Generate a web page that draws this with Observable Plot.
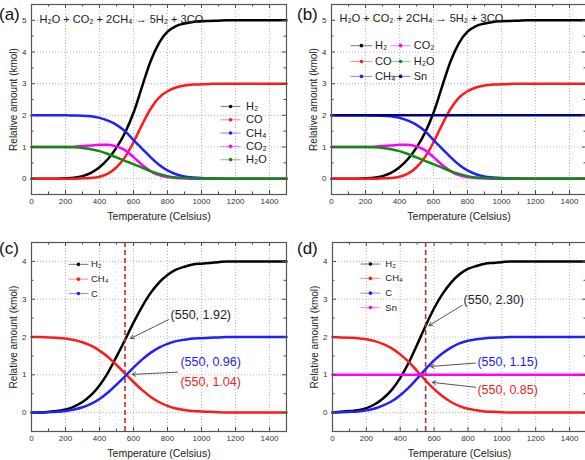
<!DOCTYPE html>
<html><head><meta charset="utf-8">
<script src="https://cdn.jsdelivr.net/npm/d3@7"></script>
<script src="https://cdn.jsdelivr.net/npm/@observablehq/plot@0.6"></script>
<style>
body{margin:0;background:#fff;}
#fig{position:relative;width:585px;height:460px;overflow:hidden;background:#fff;font-family:"Liberation Sans",Arial,sans-serif;}
.panel{position:absolute;width:300px;height:230px;}
.panel svg{max-width:none !important;width:300px;height:230px;}
.plabel{position:absolute;font-size:17px;color:#111;line-height:1;}
</style></head><body>
<div id="fig">
  <div class="panel" id="pa" style="left:0;top:0"></div>
  <div class="panel" id="pb" style="left:300px;top:0"></div>
  <div class="panel" id="pc" style="left:0;top:230px"></div>
  <div class="panel" id="pd" style="left:300px;top:230px"></div>
  <div class="plabel" style="left:-1px;top:6px">(a)</div>
  <div class="plabel" style="left:297px;top:6px">(b)</div>
  <div class="plabel" style="left:-1px;top:240px">(c)</div>
  <div class="plabel" style="left:297px;top:240px">(d)</div>
</div>
<script>
// ---------- data ----------
const temps = [0,50,100,150,200,250,300,350,400,450,500,550,600,650,700,750,800,850,900,950,1000,1050,1100,1150,1200,1250,1300,1350,1400,1450,1500];

// panels (a) and (b)
const h2A  = [0,0,0,0,0.01,0.03,0.08,0.18,0.36,0.62,0.98,1.45,2.08,2.9,3.7,4.28,4.64,4.82,4.9,4.95,4.97,4.98,4.99,5,5,5,5,5,5,5,5];
const coA  = [0,0,0,0,0,0,0.01,0.02,0.06,0.16,0.36,0.68,1.15,1.7,2.2,2.56,2.76,2.88,2.94,2.97,2.98,2.99,3,3,3,3,3,3,3,3,3];
const ch4A = [2,2,2,2,2,1.995,1.99,1.97,1.92,1.83,1.7,1.5,1.22,0.95,0.68,0.44,0.26,0.14,0.07,0.04,0.02,0.01,0.005,0,0,0,0,0,0,0,0];
const co2A = [1,1,1,1,1,1.01,1.03,1.05,1.07,1.07,1.02,0.9,0.68,0.44,0.24,0.11,0.05,0.02,0.01,0,0,0,0,0,0,0,0,0,0,0,0];
const h2oA = [1,1,1,1,1,0.99,0.97,0.93,0.87,0.78,0.67,0.56,0.46,0.35,0.24,0.15,0.08,0.04,0.02,0.01,0,0,0,0,0,0,0,0,0,0,0];
const snB  = [2,2,2,2,2,2,2,2,2,2,2,2,2,2,2,2,2,2,2,2,2,2,2,2,2,2,2,2,2,2,2];

// panel (c)
const h2C  = [0,0,0.02,0.04,0.08,0.16,0.28,0.46,0.72,1.06,1.48,1.92,2.38,2.8,3.16,3.44,3.64,3.78,3.86,3.92,3.94,3.96,3.98,4,4,4,4,4,4,4,4];
const ch4C = [2,2,1.99,1.98,1.96,1.92,1.86,1.77,1.64,1.47,1.26,1.04,0.81,0.6,0.42,0.28,0.18,0.11,0.07,0.04,0.03,0.02,0.01,0,0,0,0,0,0,0,0];
const cC   = [0,0,0.01,0.02,0.04,0.08,0.14,0.23,0.36,0.53,0.74,0.96,1.19,1.4,1.58,1.72,1.82,1.89,1.93,1.96,1.97,1.98,1.99,2,2,2,2,2,2,2,2];

// panel (d)
const h2D  = [0,0.02,0.04,0.06,0.12,0.22,0.38,0.6,0.92,1.32,1.8,2.3,2.76,3.14,3.44,3.66,3.8,3.88,3.94,3.96,3.98,4,4,4,4,4,4,4,4,4,4];
const ch4D = [2,1.99,1.98,1.97,1.94,1.89,1.81,1.7,1.54,1.34,1.1,0.85,0.62,0.43,0.28,0.17,0.1,0.06,0.03,0.02,0.01,0,0,0,0,0,0,0,0,0,0];
const cD   = [0,0.01,0.02,0.03,0.06,0.11,0.19,0.3,0.46,0.66,0.9,1.15,1.38,1.57,1.72,1.83,1.9,1.94,1.97,1.98,1.99,2,2,2,2,2,2,2,2,2,2];
const snD  = [1,1,1,1,1,1,1,1,1,1,1,1,1,1,1,1,1,1,1,1,1,1,1,1,1,1,1,1,1,1,1];

const equation = "H\u2082O + CO\u2082 + 2CH\u2084 \u2192 5H\u2082 + 3CO";
const xTitle = "Temperature (Celsius)";
const yTitle = "Relative amount (kmol)";
const xTicks = [0,200,400,600,800,1000,1200,1400];

// annotation values at 550 °C
const markT = 550;
const noteC = [{t:"(550, 1.92)"},{t:"(550, 0.96)"},{t:"(550, 1.04)"}];
const noteD = [{t:"(550, 2.30)"},{t:"(550, 1.15)"},{t:"(550, 0.85)"}];

// ---------- styles ----------
const COL = {black:"#000000", red:"#ff1a1a", blue:"#1f1fff", magenta:"#ff00ff", green:"#138a13", navy:"#000080"};

const seriesA = [
  {name:"H\u2082", values:h2A, color:COL.black},
  {name:"CO", values:coA, color:COL.red},
  {name:"CH\u2084", values:ch4A, color:COL.blue},
  {name:"CO\u2082", values:co2A, color:COL.magenta},
  {name:"H\u2082O", values:h2oA, color:COL.green}
];
const seriesB = [...seriesA, {name:"Sn", values:snB, color:COL.navy}];
const seriesC = [
  {name:"H\u2082", values:h2C, color:COL.black},
  {name:"CH\u2084", values:ch4C, color:COL.red},
  {name:"C", values:cC, color:COL.blue}
];
const seriesD = [
  {name:"H\u2082", values:h2D, color:COL.black},
  {name:"CH\u2084", values:ch4D, color:COL.red},
  {name:"C", values:cD, color:COL.blue},
  {name:"Sn", values:snD, color:COL.magenta}
];

function panel({el, width=300, height=230, mL, mR, mT, mB, yDomain, series, extras=[]}) {
  const innerW = width - mL - mR, innerH = height - mT - mB;
  const majorY = d3.range(0, yDomain[1], 1);
  const minorY = d3.range(0.5, yDomain[1], 1);
  const minorX = d3.range(100, 1500, 200);
  const tickCol = "#4a4a4a";
  const marks = [
    Plot.gridX(xTicks.slice(1), {stroke:"#9a9a9a", strokeOpacity:0.7, strokeDasharray:"1,2"}),
    Plot.gridY(majorY, {stroke:"#9a9a9a", strokeOpacity:0.7, strokeDasharray:"1,2"}),
    ...series.map(s => Plot.line(s.values, {x:(d,i)=>temps[i], y:d=>d, stroke:s.color, strokeWidth:2.5, curve:"monotone-x"})),
    ...extras,
    // inward ticks
    Plot.ruleX(xTicks.concat([1500]), {x:d=>d, insetTop:innerH-4, stroke:tickCol}),
    Plot.ruleX(xTicks.concat([1500]), {x:d=>d, insetBottom:innerH-4, stroke:tickCol}),
    Plot.ruleX(minorX, {x:d=>d, insetTop:innerH-2.5, stroke:tickCol}),
    Plot.ruleX(minorX, {x:d=>d, insetBottom:innerH-2.5, stroke:tickCol}),
    Plot.ruleY(majorY, {y:d=>d, insetRight:innerW-4, stroke:tickCol}),
    Plot.ruleY(majorY, {y:d=>d, insetLeft:innerW-4, stroke:tickCol}),
    Plot.ruleY(minorY, {y:d=>d, insetRight:innerW-2.5, stroke:tickCol}),
    Plot.ruleY(minorY, {y:d=>d, insetLeft:innerW-2.5, stroke:tickCol}),
    Plot.frame({stroke:"#555", strokeWidth:1.2}),
    Plot.axisX(xTicks, {tickSize:0, tickPadding:4, fontSize:8, fill:"#333", label:null, tickFormat:d=>String(d)}),
    Plot.axisY(majorY, {tickSize:0, tickPadding:5, fontSize:8, fill:"#333", label:null, tickFormat:d=>String(d)}),
    Plot.text([xTitle], {text:d=>d, frameAnchor:"bottom", textAnchor:"middle", lineAnchor:"middle", dy:22, fontSize:10.5, fill:"#222"}),
    Plot.text([yTitle], {text:d=>d, frameAnchor:"left", textAnchor:"middle", lineAnchor:"middle", rotate:-90, dx:-18, fontSize:10, fill:"#222"})
  ];
  const chart = Plot.plot({
    width, height, marginLeft:mL, marginRight:mR, marginTop:mT, marginBottom:mB,
    x:{domain:[0,1500], label:null},
    y:{domain:yDomain, label:null},
    style:{fontFamily:'"Liberation Sans", Arial, sans-serif', background:"transparent", overflow:"visible", maxWidth:"none"},
    marks
  });
  document.getElementById(el).appendChild(chart);
}

function legend(items, {x1, x2, xd, xt, ys, fontSize}) {
  const out = [];
  items.forEach((s, i) => {
    out.push(Plot.link([0], {x1:()=>x1, x2:()=>x2, y1:()=>ys[i], y2:()=>ys[i], stroke:s.color, strokeOpacity:0.45, strokeWidth:1.2}));
    out.push(Plot.dot([0], {x:()=>xd, y:()=>ys[i], r:1.8, fill:s.color, stroke:null}));
    out.push(Plot.text([s.name], {x:()=>xt, y:()=>ys[i], text:d=>d, textAnchor:"start", fontSize, fill:"#222"}));
  });
  return out;
}

// (a)
panel({el:"pa", mL:31, mR:14, mT:4, mB:36, yDomain:[-0.5,5.5], series:seriesA,
  extras:[
    Plot.text([equation], {x:()=>47, y:()=>5.03, text:d=>d, textAnchor:"start", fontSize:11, fill:"#222"}),
    ...legend(seriesA, {x1:1112, x2:1229, xd:1171, xt:1262, ys:[2.28,1.86,1.44,1.02,0.6], fontSize:11})
  ]});

// (b)
panel({el:"pb", mL:31, mR:14, mT:4, mB:36, yDomain:[-0.5,5.5], series:seriesB,
  extras:[
    Plot.text([equation], {x:()=>47, y:()=>5.05, text:d=>d, textAnchor:"start", fontSize:11, fill:"#222"}),
    ...legend(seriesB.slice(0,3), {x1:112, x2:241, xd:176, xt:256, ys:[4.2,3.7,3.23], fontSize:11}),
    ...legend(seriesB.slice(3), {x1:347, x2:465, xd:406, xt:484, ys:[4.2,3.7,3.23], fontSize:11})
  ]});

const dashCol = "#b8322a";
const arrowCol = "#555555";
// (c)
panel({el:"pc", mL:31, mR:14, mT:12, mB:29, yDomain:[-0.5,4.5], series:seriesC,
  extras:[
    ...legend(seriesC, {x1:218, x2:335, xd:276, xt:350, ys:[3.92,3.53,3.15], fontSize:9.5}),
    Plot.ruleX([markT], {x:d=>d, stroke:dashCol, strokeWidth:1.6, strokeDasharray:"5,3"}),
    Plot.text([noteC[0].t], {x:()=>818, y:()=>2.57, text:d=>d, textAnchor:"start", fontSize:12.5, fill:"#222"}),
    Plot.text([noteC[1].t], {x:()=>876, y:()=>1.33, text:d=>d, textAnchor:"start", fontSize:12.5, fill:"#1a1aff"}),
    Plot.text([noteC[2].t], {x:()=>876, y:()=>0.80, text:d=>d, textAnchor:"start", fontSize:12.5, fill:"#ee2222"}),
    Plot.arrow([0], {x1:()=>806, y1:()=>2.46, x2:()=>582, y2:()=>1.96, stroke:arrowCol, strokeWidth:1, headLength:6}),
    Plot.arrow([0], {x1:()=>859, y1:()=>1.07, x2:()=>592, y2:()=>1.01, stroke:arrowCol, strokeWidth:1, headLength:6})
  ]});

// (d)
panel({el:"pd", mL:32, mR:14, mT:12, mB:29, yDomain:[-0.5,4.5], series:seriesD,
  extras:[
    ...legend(seriesD, {x1:165, x2:283, xd:224, xt:312, ys:[3.93,3.55,3.16,2.78], fontSize:9.5}),
    Plot.ruleX([markT], {x:d=>d, stroke:dashCol, strokeWidth:1.6, strokeDasharray:"5,3"}),
    Plot.text([noteD[0].t], {x:()=>774, y:()=>2.97, text:d=>d, textAnchor:"start", fontSize:12.5, fill:"#222"}),
    Plot.text([noteD[1].t], {x:()=>856, y:()=>1.33, text:d=>d, textAnchor:"start", fontSize:12.5, fill:"#1a1aff"}),
    Plot.text([noteD[2].t], {x:()=>856, y:()=>0.585, text:d=>d, textAnchor:"start", fontSize:12.5, fill:"#ee2222"}),
    Plot.arrow([0], {x1:()=>766, y1:()=>2.84, x2:()=>569, y2:()=>2.30, stroke:arrowCol, strokeWidth:1, headLength:6}),
    Plot.arrow([0], {x1:()=>845, y1:()=>1.31, x2:()=>579, y2:()=>1.22, stroke:arrowCol, strokeWidth:1, headLength:6}),
    Plot.arrow([0], {x1:()=>845, y1:()=>0.67, x2:()=>589, y2:()=>0.80, stroke:arrowCol, strokeWidth:1, headLength:6})
  ]});
</script>
</body></html>
